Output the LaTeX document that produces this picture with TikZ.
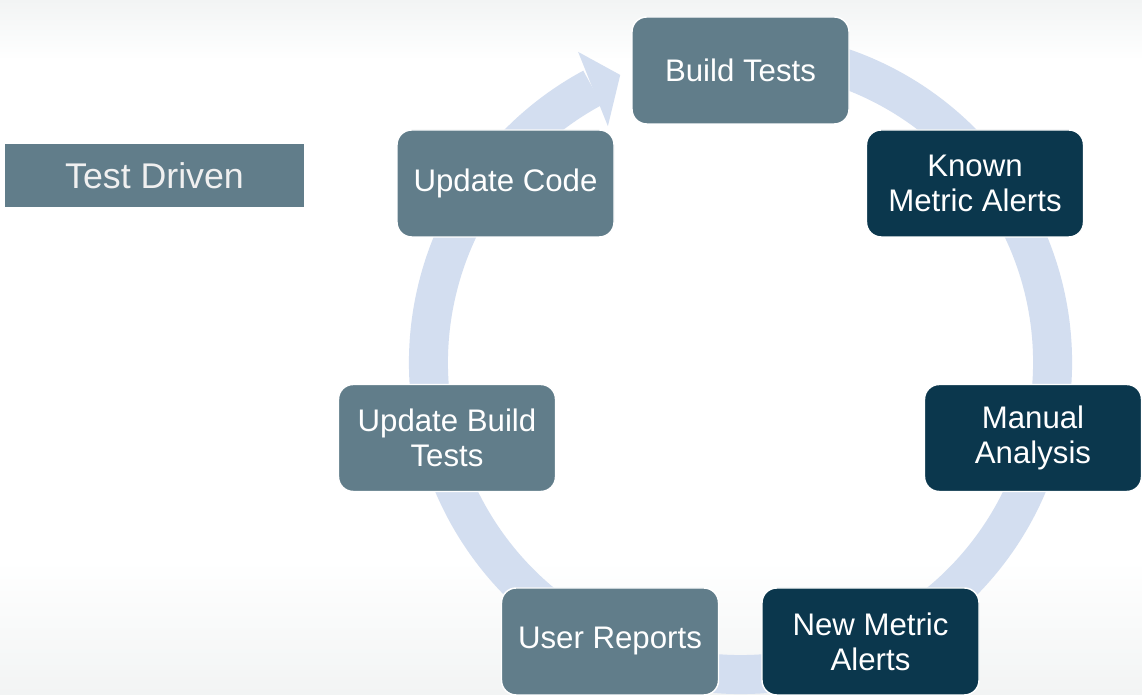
\documentclass[tikz,border=0pt]{standalone}
\usepackage{fontspec}
\setmainfont{Liberation Sans}
\usetikzlibrary{calc}
\definecolor{slate}{HTML}{617D8A}
\definecolor{navy}{HTML}{0B374D}
\definecolor{ringblue}{HTML}{D3DEF0}
\definecolor{haze}{HTML}{F2F4F4}
\definecolor{labelwhite}{HTML}{F0F0F0}
\begin{document}
\begin{tikzpicture}[x=0.75pt,y=0.75pt,
  stepbox/.style={rounded corners=11pt, draw=white, line width=1.1pt,
    minimum width=162.75pt, minimum height=80.25pt, inner sep=0pt,
    text=white, align=center, font=\fontsize{23.4}{26.25}\selectfont},
  lightbox/.style={stepbox, fill=slate},
  darkbox/.style={stepbox, fill=navy},
  modebox/.style={fill=slate, text=labelwhite, inner sep=0pt,
    minimum width=224.25pt, minimum height=47.25pt,
    font=\fontsize{26.8}{30}\selectfont},
  ring/.style={draw=ringblue, line width=29.25pt},
]
\useasboundingbox (0,0) rectangle (1142,695);

% soft grey fades along the top and bottom edges
\fill[white] (0,0) rectangle (1142,695);
\shade[top color=haze, bottom color=white] (0,635) rectangle (1142,695);
\shade[top color=white, bottom color=haze] (0,0) rectangle (1142,135);

% cycle ring with its arrowhead pointing at the first step
\coordinate (hub) at (740.5,332.5);
\draw[ring] ($(hub)+(75:312)$) arc[start angle=75, end angle=-241.7, radius=312];
\fill[ringblue] ($(hub)+(117.6:350.5)$) -- ($(hub)+(112.7:311.7)$)
  -- ($(hub)+(119.3:271)$) -- cycle;

% steps of the cycle
\node[lightbox] (build)     at (740.5,624.5) {Build Tests};
\node[darkbox]  (known)     at (975,511.5)   {Known\\Metric Alerts};
\node[darkbox]  (manual)    at (1033,257)    {Manual\\Analysis};
\node[darkbox]  (newalerts) at (870.5,53.5)  {New Metric\\Alerts};
\node[lightbox] (reports)   at (610,53.5)    {User Reports};
\node[lightbox] (updbuild)  at (447,257)     {Update Build\\Tests};
\node[lightbox] (updcode)   at (505.5,511.5) {Update Code};

% mode label
\node[modebox] (mode) at (154.5,519.5) {Test Driven};
\end{tikzpicture}
\end{document}
